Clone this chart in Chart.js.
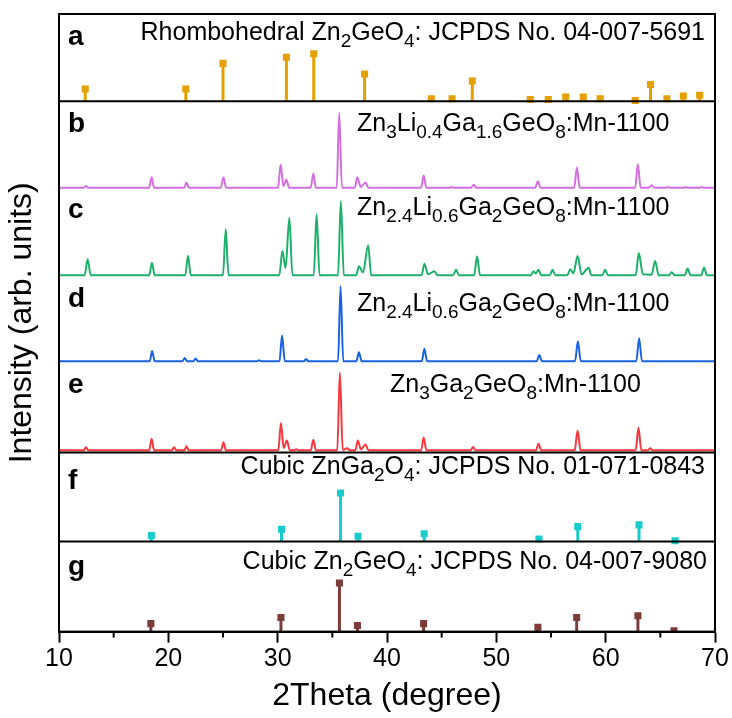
<!DOCTYPE html>
<html>
<head>
<meta charset="utf-8">
<script src="https://cdn.jsdelivr.net/npm/chart.js@4.4.1/dist/chart.umd.min.js"></script>
<style>
  html, body { margin: 0; padding: 0; background: #fff; }
</style>
</head>
<body>
<canvas id="xrd" width="732" height="718"></canvas>
<script>
// ---- data (2theta in degree, intensity in % of panel height) ----
const xTicks = [10, 20, 30, 40, 50, 60, 70];

// a: rhombohedral Zn2GeO4 reference sticks
const rhomboTheta = [12.4, 21.6, 25.0, 30.8, 33.3, 37.95, 44.05, 45.95, 47.8, 53.1, 54.75, 56.35, 57.95, 59.5, 62.7, 64.1, 65.6, 67.1, 68.6];
const rhomboInt   = [14, 14, 43, 50, 54, 31, 3, 3, 23, 2, 2, 5, 5, 3, 1, 19, 3, 6, 7];

// f: cubic ZnGa2O4 reference sticks
const znGaTheta = [18.45, 30.35, 35.75, 37.35, 43.4, 53.9, 57.45, 63.05, 66.35];
const znGaInt   = [7, 14, 55, 6, 9, 3, 17, 19, 1];

// g: cubic Zn2GeO4 reference sticks
const znGeTheta = [18.4, 30.3, 35.65, 37.3, 43.35, 53.8, 57.35, 62.95, 66.25];
const znGeInt   = [9, 16, 55, 7, 9, 5, 16, 18, 1];

// b: Zn3Li0.4Ga1.6GeO8:Mn-1100
const patternB = [
  [10,1],[12.25,1],[12.47,3],[12.7,1],
  [18.25,1],[18.47,13],[18.7,1],
  [21.45,1],[21.66,7],[21.88,1],
  [24.8,1],[25.04,13],[25.28,1],
  [30.03,1],[30.27,27],[30.52,3],[30.8,10],[31.05,1],
  [33.02,1],[33.26,17],[33.5,1],
  [35.4,1],[35.63,86],[35.88,1],
  [37.05,1],[37.28,13],[37.6,2],[38.04,7],[38.3,1],
  [43.12,1],[43.36,15],[43.6,1],
  [45.7,1],[45.9,2],[46.1,1],
  [47.7,1],[47.93,4.5],[48.16,1],
  [53.56,1],[53.8,8.5],[54.04,1],
  [57.12,1],[57.37,24],[57.62,1],
  [62.7,1],[62.94,28],[63.2,1],
  [63.95,1],[64.2,4],[64.45,1],
  [65.5,1],[65.7,2],[65.9,1],
  [67.1,1],[67.3,2],[67.5,1],
  [68.6,1],[68.8,2],[69.0,1],[70,1]
];

// c: Zn2.4Li0.6Ga2GeO8:Mn-1100 (upper)
const patternC = [
  [10,1],[12.35,1],[12.62,19],[12.9,1],
  [18.25,1],[18.5,15],[18.75,1],
  [21.55,1],[21.8,23],[22.05,1],
  [25.0,1],[25.25,53],[25.5,1],
  [30.15,1],[30.43,28.5],[30.72,9],[31.07,66],[31.35,1],
  [33.3,1],[33.56,70],[33.83,1],
  [35.52,1],[35.78,85],[36.05,1],
  [37.18,1],[37.43,11],[37.8,4],[38.28,35],[38.55,1],
  [43.17,1],[43.42,14],[43.75,2],[44.34,5.5],[44.6,1],
  [46.05,1],[46.32,7],[46.58,1],
  [47.97,1],[48.24,22.5],[48.5,1],
  [53.15,1],[53.4,5.5],[53.62,3],[53.86,7],[54.1,1],
  [54.9,1],[55.14,7],[55.4,1],
  [56.5,1],[56.76,7.8],[57.05,3],[57.43,22.8],[57.8,2],[58.43,9.3],[58.7,1],
  [59.7,1],[59.95,7],[60.2,1],
  [62.75,1],[63.03,26],[63.4,2],[64.2,1.5],[64.52,17],[64.85,1],
  [65.8,1],[66.04,4.4],[66.3,1],
  [67.25,1],[67.5,8.5],[67.75,1],
  [68.75,1],[69.0,9.7],[69.25,1],[70,1]
];

// d: Zn2.4Li0.6Ga2GeO8:Mn-1100 (lower)
const patternD = [
  [10,1.5],[18.3,1.5],[18.52,13],[18.75,1.5],
  [21.3,1.5],[21.5,5],[21.7,1.5],
  [22.3,1.5],[22.5,4.5],[22.7,1.5],
  [28.1,1.5],[28.3,2.5],[28.5,1.5],
  [30.17,1.5],[30.4,30.5],[30.65,1.5],
  [32.4,1.5],[32.6,4],[32.8,1.5],
  [35.52,1.5],[35.75,86.5],[36.0,1.5],
  [37.2,1.5],[37.43,11.5],[37.68,1.5],
  [43.18,1.5],[43.42,15.5],[43.66,1.5],
  [53.7,1.5],[53.93,8.5],[54.16,1.5],
  [57.2,1.5],[57.46,24],[57.72,1.5],
  [62.8,1.5],[63.06,27.5],[63.32,1.5],[70,1.5]
];

// e: Zn3Ga2GeO8:Mn-1100
const patternE = [
  [10,2.5],[12.27,2.5],[12.47,6],[12.67,2.5],
  [18.25,2.5],[18.47,15.5],[18.7,2.5],
  [20.33,2.5],[20.53,6],[20.73,2.5],
  [21.46,2.5],[21.66,7],[21.86,2.5],
  [24.82,2.5],[25.04,11.5],[25.26,2.5],
  [30.06,2.5],[30.3,33.5],[30.55,5],[30.85,13.5],[31.1,2.5],
  [31.5,2.5],[31.7,3.6],[31.9,2.5],
  [33.03,2.5],[33.26,14.5],[33.5,2.5],
  [35.45,2.5],[35.69,90.5],[35.95,3],[36.36,4.8],[36.6,2.5],
  [37.1,2.5],[37.33,13.5],[37.62,3.5],[38.04,9],[38.3,2.5],
  [43.12,2.5],[43.36,17],[43.6,2.5],
  [47.65,2.5],[47.87,6.3],[48.1,2.5],
  [53.62,2.5],[53.86,10],[54.1,2.5],
  [57.17,2.5],[57.43,25],[57.7,2.5],
  [62.74,2.5],[63.0,28],[63.26,2.5],
  [63.85,2.5],[64.07,4.8],[64.3,2.5],[70,2.5]
];

const panelLetters = ['a', 'b', 'c', 'd', 'e', 'f', 'g'];
// [text, isSubscript]
const panelTitles = [
  [['Rhombohedral Zn'], ['2', 1], ['GeO'], ['4', 1], [': JCPDS No. 04-007-5691']],
  [['Zn'], ['3', 1], ['Li'], ['0.4', 1], ['Ga'], ['1.6', 1], ['GeO'], ['8', 1], [':Mn-1100']],
  [['Zn'], ['2.4', 1], ['Li'], ['0.6', 1], ['Ga'], ['2', 1], ['GeO'], ['8', 1], [':Mn-1100']],
  [['Zn'], ['2.4', 1], ['Li'], ['0.6', 1], ['Ga'], ['2', 1], ['GeO'], ['8', 1], [':Mn-1100']],
  [['Zn'], ['3', 1], ['Ga'], ['2', 1], ['GeO'], ['8', 1], [':Mn-1100']],
  [['Cubic ZnGa'], ['2', 1], ['O'], ['4', 1], [': JCPDS No. 01-071-0843']],
  [['Cubic Zn'], ['2', 1], ['GeO'], ['4', 1], [': JCPDS No. 04-007-9080']]
];

// ---- layout / style ----
const FONT = 'Arial, "Liberation Sans", sans-serif';
const colors = ['#E3A000', '#D36FE0', '#1DB06A', '#1A63E0', '#F5383C', '#18CCCC', '#7D3C3C'];
// bottom of each panel on the shared y axis (a..g), top of stack = 700
const panelBase = [601, 502, 403, 305, 203, 102, 0];
const panelTop  = [700, 601, 502, 403, 305, 203, 102];
const letterDy  = [31, 31, 29, 31, 30, 37, 33];
const titleDy   = [26, 30, 26, 35, 29, 22, 27];
const titleAnchor = [['right', 705], ['left', 357], ['left', 357], ['left', 357], ['left', 390], ['right', 705], ['right', 707]];

function stickDatasets(theta, inten, base, color) {
  const seg = [];
  theta.forEach((t, i) => {
    seg.push({ x: t, y: base }, { x: t, y: base + inten[i] }, { x: t, y: null });
  });
  return [
    { type: 'line', data: seg, borderColor: color, borderWidth: 3, borderCapStyle: 'butt',
      pointRadius: 0, spanGaps: false, order: 2 },
    { type: 'line', data: theta.map((t, i) => ({ x: t, y: base + inten[i] })), showLine: false,
      pointStyle: 'rect', pointRadius: 5, pointBackgroundColor: color, pointBorderWidth: 0, order: 1 }
  ];
}

function traceDataset(pts, base, color) {
  return { type: 'line', data: pts.map(p => ({ x: p[0], y: base + p[1] })), borderColor: color,
    borderWidth: 2, pointRadius: 0, cubicInterpolationMode: 'monotone', fill: false, order: 3 };
}

function drawRich(ctx, parts, x, y, size, align) {
  const sub = Math.round(size * 0.74);
  let w = 0;
  parts.forEach(p => { ctx.font = (p[1] ? sub : size) + 'px ' + FONT; w += ctx.measureText(p[0]).width; });
  let cx = align === 'right' ? x - w : x;
  ctx.textAlign = 'left';
  ctx.textBaseline = 'alphabetic';
  parts.forEach(p => {
    ctx.font = (p[1] ? sub : size) + 'px ' + FONT;
    ctx.fillText(p[0], cx, p[1] ? y + size * 0.28 : y);
    cx += ctx.measureText(p[0]).width;
  });
}

const framePlugin = {
  id: 'frame',
  afterDraw(chart) {
    const { ctx, chartArea: ca, scales } = chart;
    const xs = scales.x, ys = scales.y;
    ctx.save();
    ctx.strokeStyle = '#000';
    ctx.lineWidth = 2;
    ctx.strokeRect(ca.left, ca.top, ca.right - ca.left, ca.bottom - ca.top);
    // separators below a, e and f
    [0, 4, 5].forEach(k => {
      const y = ys.getPixelForValue(panelBase[k]);
      ctx.beginPath(); ctx.moveTo(ca.left, y); ctx.lineTo(ca.right, y); ctx.stroke();
    });
    // minor ticks
    for (let v = 15; v < 70; v += 10) {
      const x = xs.getPixelForValue(v);
      ctx.beginPath(); ctx.moveTo(x, ca.bottom); ctx.lineTo(x, ca.bottom + 6); ctx.stroke();
    }
    // panel letters and titles
    ctx.fillStyle = '#000';
    panelLetters.forEach((l, k) => {
      const top = ys.getPixelForValue(panelTop[k]);
      ctx.font = 'bold 28px ' + FONT;
      ctx.textAlign = 'left';
      ctx.textBaseline = 'alphabetic';
      ctx.fillText(l, ca.left + 9, top + letterDy[k]);
      drawRich(ctx, panelTitles[k], titleAnchor[k][1], top + titleDy[k], 25, titleAnchor[k][0]);
    });
    // y title
    ctx.translate(22, (ca.top + ca.bottom) / 2);
    ctx.rotate(-Math.PI / 2);
    ctx.font = '32px ' + FONT;
    ctx.textAlign = 'center';
    ctx.textBaseline = 'middle';
    ctx.fillText('Intensity (arb. units)', 0, 0);
    ctx.restore();
  }
};

const datasets = [
  traceDataset(patternB, panelBase[1], colors[1]),
  traceDataset(patternC, panelBase[2], colors[2]),
  traceDataset(patternD, panelBase[3], colors[3]),
  traceDataset(patternE, panelBase[4], colors[4]),
  ...stickDatasets(rhomboTheta, rhomboInt, panelBase[0], colors[0]),
  ...stickDatasets(znGaTheta, znGaInt, panelBase[5], colors[5]),
  ...stickDatasets(znGeTheta, znGeInt, panelBase[6], colors[6])
];

new Chart(document.getElementById('xrd').getContext('2d'), {
  type: 'line',
  data: { datasets: datasets },
  options: {
    responsive: false,
    animation: false,
    devicePixelRatio: 1,
    layout: { padding: { left: 59, right: 17, top: 14, bottom: 0 } },
    plugins: { legend: { display: false }, tooltip: { enabled: false } },
    scales: {
      x: {
        type: 'linear', min: 10, max: 70,
        afterBuildTicks: s => { s.ticks = xTicks.map(v => ({ value: v })); },
        grid: { drawOnChartArea: false, drawTicks: true, tickLength: 11, tickWidth: 2, tickColor: '#000' },
        border: { display: true, color: '#000', width: 2 },
        ticks: { color: '#000', padding: 2, maxRotation: 0, font: { size: 25, family: FONT } },
        title: { display: true, text: '2Theta (degree)', color: '#000', font: { size: 32, family: FONT },
          padding: { top: 0, bottom: 3 } }
      },
      y: { type: 'linear', min: 0, max: 700, display: false, stacked: false }
    }
  },
  plugins: [framePlugin]
});
</script>
</body>
</html>
